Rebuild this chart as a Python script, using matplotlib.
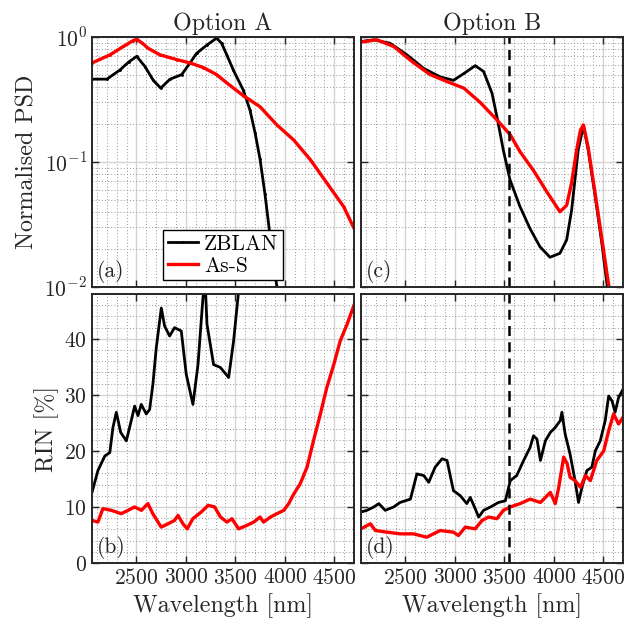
import numpy as np
import matplotlib
matplotlib.use("Agg")
import matplotlib.pyplot as plt
from matplotlib.ticker import MultipleLocator, FixedLocator, FuncFormatter, LogLocator, NullFormatter

plt.rcParams['font.family'] = ['cmr10', 'DejaVu Serif']
plt.rcParams['mathtext.fontset'] = 'cm'
plt.rcParams['axes.unicode_minus'] = False
plt.rcParams['axes.formatter.use_mathtext'] = True

# (a) Option A, normalised PSD
wl_psd_a_zblan = [2050, 2200, 2333, 2420, 2502, 2586, 2670, 2745, 2839, 2957, 3041, 3108, 3210,
                  3311, 3361, 3420, 3479, 3580, 3648, 3700, 3750, 3800, 3850, 3890, 3925]
psd_a_zblan = [0.46, 0.46, 0.545, 0.63, 0.70, 0.58, 0.45, 0.39, 0.46, 0.50, 0.62, 0.74, 0.86,
               0.98, 0.89, 0.70, 0.545, 0.376, 0.26, 0.17, 0.105, 0.055, 0.026, 0.0145, 0.0095]
wl_psd_a_ass = [2050, 2232, 2367, 2460, 2502, 2560, 2620, 2738, 2906, 3041, 3176, 3311, 3445,
                3580, 3749, 3920, 4090, 4260, 4425, 4595, 4700]
psd_a_ass = [0.62, 0.72, 0.84, 0.93, 0.96, 0.89, 0.81, 0.72, 0.66, 0.62, 0.57, 0.50, 0.41,
             0.34, 0.277, 0.198, 0.15, 0.104, 0.068, 0.044, 0.0295]

# (c) Option B, normalised PSD
wl_psd_b_zblan = [2050, 2180, 2345, 2515, 2685, 2850, 2985, 3090, 3205, 3290, 3375, 3430, 3489,
                  3557, 3658, 3759, 3860, 3961, 4062, 4130, 4180, 4214, 4247, 4300, 4348, 4420,
                  4487, 4545]
psd_b_zblan = [0.92, 0.95, 0.89, 0.72, 0.56, 0.48, 0.45, 0.51, 0.59, 0.53, 0.355, 0.22, 0.125,
               0.072, 0.044, 0.0294, 0.021, 0.0173, 0.0186, 0.0238, 0.041, 0.072, 0.125, 0.195,
               0.125, 0.052, 0.022, 0.0095]
wl_psd_b_ass = [2050, 2210, 2380, 2585, 2750, 2920, 3090, 3255, 3425, 3560, 3658, 3793, 3928,
                4062, 4130, 4180, 4231, 4270, 4300, 4348, 4420, 4487, 4562]
psd_b_ass = [0.91, 0.95, 0.84, 0.62, 0.50, 0.44, 0.39, 0.30, 0.217, 0.165, 0.121, 0.086, 0.058,
             0.040, 0.045, 0.068, 0.125, 0.18, 0.198, 0.13, 0.055, 0.024, 0.0095]

# (b) Option A, RIN
wl_rin_a_zblan = [2050, 2110, 2180, 2230, 2262, 2296, 2340, 2397, 2447, 2481, 2515, 2548, 2599,
                  2633, 2666, 2700, 2751, 2784, 2835, 2885, 2953, 3003, 3071, 3122, 3172, 3195,
                  3213, 3280, 3348, 3432, 3482, 3533, 3570, 3620]
rin_a_zblan = [12.6, 16.5, 19.1, 19.7, 24.2, 26.9, 23.3, 21.8, 25.4, 28.0, 26.3, 28.3, 26.6,
               27.4, 31.9, 38.4, 45.5, 42.3, 40.5, 42.0, 41.4, 33.7, 28.3, 35.4, 47.3, 50.0,
               42.6, 35.4, 34.9, 33.1, 39.6, 48.5, 56.0, 64.0]
wl_rin_a_ass = [2050, 2110, 2160, 2245, 2345, 2415, 2480, 2550, 2615, 2665, 2750, 2820, 2885,
                2920, 2970, 3013, 3070, 3155, 3225, 3290, 3350, 3415, 3465, 3533, 3615, 3685,
                3750, 3785, 3855, 3920, 3990, 4040, 4090, 4155, 4225, 4290, 4360, 4425, 4495,
                4560, 4630, 4700]
rin_a_ass = [7.6, 7.3, 9.7, 9.4, 8.8, 9.4, 10.0, 9.4, 10.6, 8.8, 6.4, 7.0, 7.6,
             8.5, 7.0, 6.1, 7.9, 9.1, 10.3, 10.0, 8.2, 7.3, 7.9, 6.1, 6.7, 7.3,
             8.2, 7.3, 8.2, 8.8, 9.4, 10.6, 12.3, 14.1, 17.1, 21.8, 26.6, 31.3, 35.4,
             39.6, 42.6, 46.0]

# (d) Option B, RIN
wl_rin_b_zblan = [2050, 2110, 2180, 2230, 2295, 2380, 2445, 2550, 2615, 2685, 2735, 2800, 2870,
                  2920, 2985, 3055, 3120, 3155, 3205, 3240, 3290, 3360, 3440, 3510, 3560, 3625,
                  3695, 3760, 3795, 3830, 3865, 3915, 3965, 4015, 4065, 4082, 4115, 4165, 4215,
                  4250, 4285, 4335, 4385, 4420, 4470, 4520, 4555, 4590, 4620, 4655, 4700]
rin_b_zblan = [9.1, 9.4, 10.0, 10.6, 9.4, 10.0, 10.8, 11.4, 15.9, 15.6, 14.4, 17.1, 18.6,
               18.3, 12.9, 12.0, 10.6, 11.7, 9.7, 8.2, 9.4, 10.0, 10.8, 11.1, 14.7, 15.6,
               18.3, 20.6, 22.7, 22.1, 18.3, 21.8, 23.3, 24.2, 25.4, 26.9, 23.0, 19.4, 14.7,
               10.8, 13.5, 16.5, 17.1, 20.0, 21.8, 25.4, 29.8, 28.9, 26.9, 29.5, 31.0]
wl_rin_b_ass = [2050, 2145, 2195, 2315, 2445, 2580, 2715, 2850, 2985, 3035, 3105, 3205, 3275,
                3340, 3425, 3490, 3560, 3660, 3760, 3865, 3965, 4015, 4050, 4100, 4135, 4165,
                4215, 4270, 4320, 4370, 4435, 4505, 4555, 4605, 4655, 4700]
rin_b_ass = [6.1, 7.0, 5.8, 5.5, 5.2, 5.2, 4.6, 5.8, 5.5, 4.9, 6.4, 6.1, 7.6,
             8.2, 7.9, 9.4, 10.0, 10.6, 11.4, 10.8, 12.6, 10.6, 13.5, 18.9, 17.7, 15.3,
             14.7, 13.5, 15.6, 14.7, 18.3, 20.0, 23.6, 26.6, 24.8, 26.0]

xticks = [2500, 3000, 3500, 4000, 4500]
cutoff_wl = 3550

fig = plt.figure(figsize=(6.34, 6.21), dpi=100)
wdt = 262 / 634
ax_a = fig.add_axes([92 / 634, 1 - 287 / 621, wdt, 250 / 621])
ax_c = fig.add_axes([361 / 634, 1 - 287 / 621, wdt, 250 / 621])
ax_b = fig.add_axes([92 / 634, 1 - 563 / 621, wdt, 269 / 621])
ax_d = fig.add_axes([361 / 634, 1 - 563 / 621, wdt, 269 / 621])

frame_col = (0.15, 0.15, 0.15)
fs_tick = 15.5
fs_lab = 17.3


def style_axes(ax, log=False):
    ax.set_xlim(2050, 4700)
    ax.xaxis.set_major_locator(FixedLocator(xticks))
    ax.xaxis.set_minor_locator(MultipleLocator(100))
    if log:
        ax.set_yscale('log')
        ax.set_ylim(1e-2, 1)
        ax.yaxis.set_major_locator(LogLocator(base=10, numticks=5))
        ax.yaxis.set_minor_locator(LogLocator(base=10, subs=np.arange(2, 10), numticks=20))
        ax.yaxis.set_minor_formatter(NullFormatter())
        ax.yaxis.set_major_formatter(FuncFormatter(lambda v, p: r'$10^{%d}$' % round(np.log10(v))))
    else:
        ax.set_ylim(0, 48)
        ax.yaxis.set_major_locator(MultipleLocator(10))
        ax.yaxis.set_minor_locator(MultipleLocator(2))
    ax.grid(True, which='major', color='#d4d4d4', linewidth=1.0, linestyle='-')
    ax.grid(True, which='minor', color='#a0a0a0', linewidth=0.75, linestyle=(0, (1, 2)))
    ax.set_axisbelow(True)
    for s in ax.spines.values():
        s.set_color(frame_col)
        s.set_linewidth(1.4)
    ax.tick_params(which='major', direction='in', length=5, width=1, colors=frame_col,
                   top=True, right=True, labelsize=fs_tick, labelcolor=frame_col)
    ax.tick_params(which='minor', length=0, top=True, right=True)


for ax in (ax_a, ax_c):
    style_axes(ax, log=True)
    ax.tick_params(labelbottom=False)
for ax in (ax_b, ax_d):
    style_axes(ax)
for ax in (ax_c, ax_d):
    ax.tick_params(labelleft=False)

ax_a.plot(wl_psd_a_zblan, psd_a_zblan, color='black', lw=2.0, label='ZBLAN', marker='.', markersize=2)
ax_a.plot(wl_psd_a_ass, psd_a_ass, color='red', lw=2.4, label='As-S', marker='.', markersize=2)
ax_c.plot(wl_psd_b_zblan, psd_b_zblan, color='black', lw=2.0)
ax_c.plot(wl_psd_b_ass, psd_b_ass, color='red', lw=2.4)
ax_b.plot(wl_rin_a_zblan, rin_a_zblan, color='black', lw=2.0)
ax_b.plot(wl_rin_a_ass, rin_a_ass, color='red', lw=2.4)
ax_d.plot(wl_rin_b_zblan, rin_b_zblan, color='black', lw=2.0)
ax_d.plot(wl_rin_b_ass, rin_b_ass, color='red', lw=2.4)

for ax in (ax_c, ax_d):
    ax.axvline(cutoff_wl, color='black', lw=1.8, linestyle=(0, (4, 2.5)))

for ax, lab in zip((ax_a, ax_b, ax_c, ax_d), ('(a)', '(b)', '(c)', '(d)')):
    ax.text(0.02, 0.015, lab, transform=ax.transAxes, ha='left', va='bottom',
            fontsize=fs_tick, color=frame_col)

leg = ax_a.legend(loc='lower center', bbox_to_anchor=(0.5, 0.028), fontsize=fs_tick,
                  handlelength=1.4, handletextpad=0.3, borderpad=0.2, labelspacing=0.1,
                  borderaxespad=0, fancybox=False, framealpha=1, edgecolor='black')
leg.get_frame().set_linewidth(1.0)

ax_a.set_title('Option A', fontsize=fs_lab, color=frame_col, pad=5)
ax_c.set_title('Option B', fontsize=fs_lab, color=frame_col, pad=5)
ax_a.set_ylabel('Normalised PSD', fontsize=fs_lab, color=frame_col)
ax_b.set_ylabel('RIN [%]', fontsize=fs_lab, color=frame_col)
ax_b.set_xlabel('Wavelength [nm]', fontsize=fs_lab, color=frame_col)
ax_d.set_xlabel('Wavelength [nm]', fontsize=fs_lab, color=frame_col)

fig.savefig('out.png', dpi=100, facecolor='white')
